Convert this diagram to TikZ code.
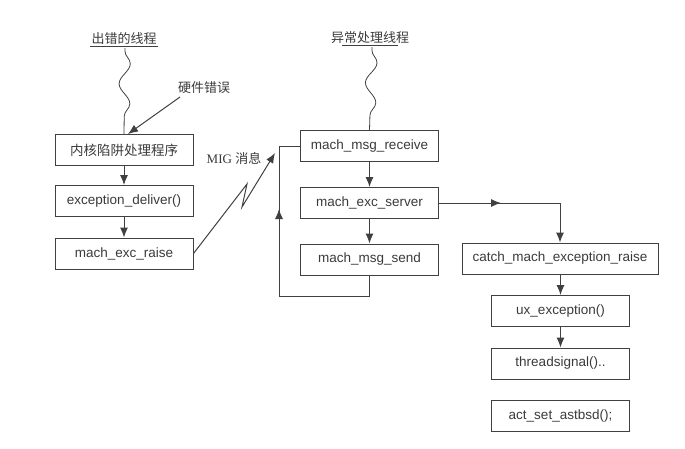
\documentclass[tikz,border=0pt]{standalone}
\usepackage{fontspec}
\setmainfont{Liberation Sans}
\newfontfamily\cjk{Noto Sans CJK SC}
\usepackage{xcolor}
\usetikzlibrary{arrows.meta}
\usetikzlibrary{decorations.pathmorphing}
\definecolor{linegray}{HTML}{404040}
\definecolor{textgray}{HTML}{3A3A3A}
\tikzset{
  fnbox/.style={draw=linegray, line width=1pt, minimum width=138pt, minimum height=31pt,
    inner sep=0pt, text=textgray, font=\fontsize{13.5pt}{15pt}\selectfont},
  widebox/.style={fnbox, minimum width=196pt},
  flow/.style={draw=linegray, line width=1pt, -{Latex[length=10pt,width=8pt]}},
  plainflow/.style={draw=linegray, line width=1pt},
  wavy/.style={draw=linegray, line width=0.8pt, decorate,
    decoration={snake, segment length=40pt, amplitude=5.5pt, pre length=3pt, post length=3pt}},
  tlabel/.style={text=textgray, font=\cjk\fontsize{13pt}{15pt}\selectfont, inner sep=1pt}
}

\begin{document}
\begin{tikzpicture}[x=1pt,y=-1pt]
    \useasboundingbox (0,0) rectangle (685,448);

    \node[tlabel] (errthread) at (124,39) {出错的线程};
    \draw[linegray, line width=0.8pt] (errthread.south west) -- (errthread.south east);
    \node[tlabel] (excthread) at (370,38) {异常处理线程};
    \draw[linegray, line width=0.8pt] ([xshift=12pt]excthread.south west) -- ([xshift=-12pt]excthread.south east);

    \node[fnbox] (trap) at (124,150) {\cjk 内核陷阱处理程序};
    \node[fnbox] (deliver) at (124,201) {exception\_deliver()};
    \node[fnbox] (raise) at (124,253.5) {mach\_exc\_raise};

    \node[fnbox] (recv) at (369.5,146) {mach\_msg\_receive};
    \node[fnbox] (server) at (369.5,203) {mach\_exc\_server};
    \node[fnbox] (send) at (369.5,259.5) {mach\_msg\_send};

    \node[widebox] (catch) at (560,258.5) {catch\_mach\_exception\_raise};
    \node[fnbox] (uxexc) at (560.5,311) {ux\_exception()};
    \node[fnbox] (tsignal) at (560.5,363.5) {threadsignal()..};
    \node[fnbox] (astbsd) at (560.5,415.5) {act\_set\_astbsd();};

    \node[tlabel] (hwerr) at (204,88) {硬件错误};
    \node[tlabel] (mig) at (234,158) {\fontsize{13pt}{15pt}\fontspec{Liberation Serif}MIG \cjk 消息};

    \draw[wavy] (errthread.south) ++(1,2) -- (trap.north);
    \draw[wavy] (excthread.south) ++(2,2) -- (recv.north);

    \draw[flow] (180,97) -- ([xshift=4pt]trap.north);
    \draw[flow] (trap) -- (deliver);
    \draw[flow] (deliver) -- (raise);

    \coordinate (migtip) at (275,153);
    \draw[flow] (raise.east) -- (247,184) -- (242,207) -- (migtip);

    \draw[flow] (recv) -- (server);
    \draw[flow] (server) -- (send);

    \coordinate (loopa) at (279,296);
    \coordinate (loopm) at (279,209);
    \draw[plainflow] (send.south) -- (send.south |- loopa) -- (loopa) -- (279,146) -- (recv.west);
    \draw[flow] ([yshift=-1pt]loopm) -- (loopm);

    \coordinate (srvm) at (501,203);
    \coordinate (turn) at (catch.north |- server.east);
    \draw[flow] (server.east) -- (turn) -- (catch.north);
    \draw[flow] ([xshift=-1pt]srvm) -- (srvm);

    \draw[flow] (catch.south -| uxexc.north) -- (uxexc.north);
    \draw[flow] (uxexc) -- (tsignal);
\end{tikzpicture}
\end{document}
